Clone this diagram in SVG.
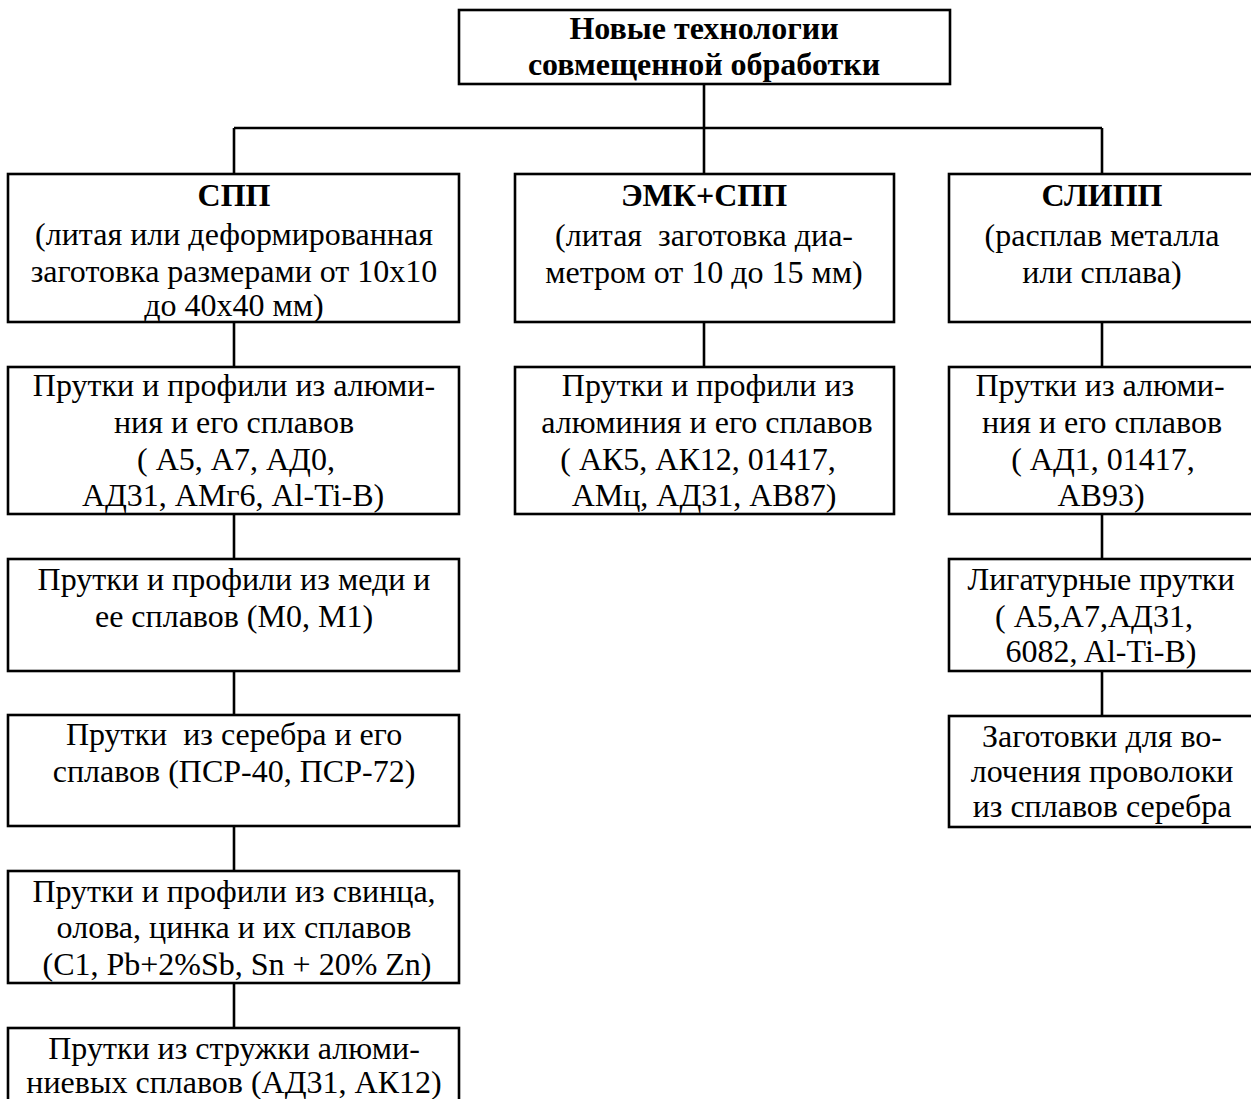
<svg xmlns="http://www.w3.org/2000/svg" width="1251" height="1099" viewBox="0 0 1251 1099">
<style>
rect{fill:#fff;stroke:#000;stroke-width:2.6}
line{stroke:#000;stroke-width:2.6}
text{font-family:"Liberation Serif","Times New Roman",serif;font-size:32px;fill:#000;text-anchor:middle}
.b{font-weight:bold}
</style>
<rect x="0" y="0" width="1251" height="1099" style="fill:#fff;stroke:none"/>
<g id="connectors">
<line x1="704" y1="84" x2="704" y2="174"/>
<line x1="234" y1="128" x2="1102" y2="128"/>
<line x1="234" y1="128" x2="234" y2="174"/>
<line x1="1102" y1="128" x2="1102" y2="174"/>
<line x1="234" y1="322" x2="234" y2="367"/>
<line x1="234" y1="514" x2="234" y2="559"/>
<line x1="234" y1="671" x2="234" y2="715"/>
<line x1="234" y1="826" x2="234" y2="871"/>
<line x1="234" y1="983" x2="234" y2="1028"/>
<line x1="704" y1="322" x2="704" y2="367"/>
<line x1="1102" y1="322" x2="1102" y2="367"/>
<line x1="1102" y1="514" x2="1102" y2="559"/>
<line x1="1102" y1="671" x2="1102" y2="716"/>
</g>
<g id="root">
<rect x="459" y="10" width="491" height="74"/>
<text class="b" x="704" y="39">Новые технологии</text>
<text class="b" x="704" y="75">совмещенной обработки</text>
</g>
<g id="spp">
<rect x="8" y="174" width="451" height="148"/>
<text class="b" x="234" y="206">СПП</text>
<text x="234" y="245">(литая или деформированная</text>
<text x="234" y="282">заготовка размерами от 10х10</text>
<text x="234" y="316">до 40х40 мм)</text>
</g>
<g id="emk">
<rect x="515" y="174" width="379" height="148"/>
<text class="b" x="704" y="206">ЭМК+СПП</text>
<text x="704" y="246" style="white-space:pre">(литая  заготовка диа-</text>
<text x="704" y="283">метром от 10 до 15 мм)</text>
</g>
<g id="slipp">
<rect x="949" y="174" width="306" height="148"/>
<text class="b" x="1102" y="206">СЛИПП</text>
<text x="1102" y="246">(расплав металла</text>
<text x="1102" y="283">или сплава)</text>
</g>
<g id="spp-al">
<rect x="8" y="367" width="451" height="147"/>
<text x="234" y="396">Прутки и профили из алюми-</text>
<text x="234" y="433">ния и его сплавов</text>
<text x="236" y="470">( А5, А7, АД0,</text>
<text x="233" y="506">АД31, АМг6, Al-Ti-B)</text>
</g>
<g id="spp-cu">
<rect x="8" y="559" width="451" height="112"/>
<text x="234" y="590">Прутки и профили из меди и</text>
<text x="234" y="627">ее сплавов (М0, М1)</text>
</g>
<g id="spp-ag">
<rect x="8" y="715" width="451" height="111"/>
<text x="234" y="745" style="white-space:pre">Прутки  из серебра и его</text>
<text x="234" y="782">сплавов (ПСР-40, ПСР-72)</text>
</g>
<g id="spp-pb">
<rect x="8" y="871" width="451" height="112"/>
<text x="234" y="902">Прутки и профили из свинца,</text>
<text x="234" y="938">олова, цинка и их сплавов</text>
<text x="237" y="975">(С1, Pb+2%Sb, Sn + 20% Zn)</text>
</g>
<g id="spp-chip">
<rect x="8" y="1028" width="451" height="90"/>
<text x="234" y="1059">Прутки из стружки алюми-</text>
<text x="234" y="1093">ниевых сплавов (АД31, АК12)</text>
</g>
<g id="emk-al">
<rect x="515" y="367" width="379" height="147"/>
<text x="708" y="396">Прутки и профили из</text>
<text x="707" y="433">алюминия и его сплавов</text>
<text x="698" y="470">( АК5, АК12, 01417,</text>
<text x="704" y="506">АМц, АД31, АВ87)</text>
</g>
<g id="slipp-al">
<rect x="949" y="367" width="306" height="147"/>
<text x="1100" y="396">Прутки из алюми-</text>
<text x="1102" y="433">ния и его сплавов</text>
<text x="1103" y="470">( АД1, 01417,</text>
<text x="1101" y="506">АВ93)</text>
</g>
<g id="slipp-lig">
<rect x="949" y="559" width="306" height="112"/>
<text x="1101" y="590">Лигатурные прутки</text>
<text x="1094" y="627">( А5,А7,АД31,</text>
<text x="1101" y="662">6082, Al-Ti-B)</text>
</g>
<g id="slipp-wire">
<rect x="949" y="716" width="306" height="111"/>
<text x="1102" y="747">Заготовки для во-</text>
<text x="1102" y="782">лочения проволоки</text>
<text x="1102" y="817">из сплавов серебра</text>
</g>
</svg>
